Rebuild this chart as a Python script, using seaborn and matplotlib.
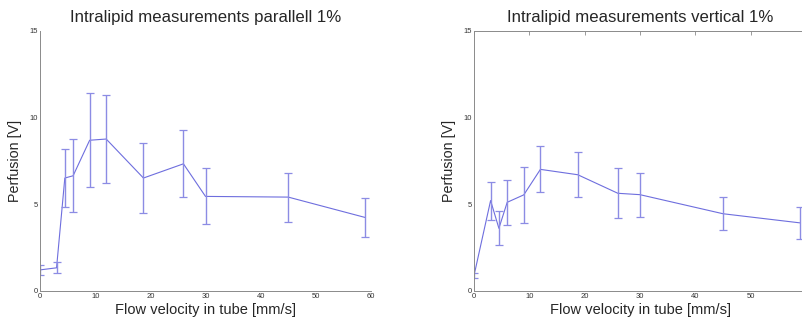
import numpy as np
import pandas as pd
import matplotlib
matplotlib.use("Agg")
import matplotlib.pyplot as plt
import seaborn as sns

# flow velocity in tube [mm/s]
velocity = [0, 3, 4.5, 6, 9, 12, 18.75, 26, 30, 45, 59]

# parallel 1%
par_mean = [1.2, 1.32, 6.5, 6.63, 8.68, 8.75, 6.5, 7.32, 5.44, 5.4, 4.22]
par_err = [0.28, 0.32, 1.65, 2.1, 2.71, 2.56, 2.0, 1.93, 1.62, 1.41, 1.1]

# vertical 1%
ver_mean = [0.87, 5.2, 3.6, 5.1, 5.53, 7.0, 6.69, 5.62, 5.54, 4.44, 3.91]
ver_err = [0.15, 1.1, 0.98, 1.3, 1.6, 1.32, 1.3, 1.44, 1.27, 0.95, 0.94]

titles = ["Intralipid measurements parallell 1%", "Intralipid measurements vertical 1%"]
xticks = [0, 10, 20, 30, 40, 50, 60]
yticks = [0, 5, 10, 15]

sns.set_style("white")
plt.rcParams['font.family'] = ['Liberation Sans', 'DejaVu Sans']

line_col = "#6e6ede"
err_col = "#8c8ce4"
spine_col = "#8a8a8a"

fig = plt.figure(figsize=(8.02, 3.22), dpi=100)
ax1 = fig.add_axes([40 / 802, 31.3 / 322, 331 / 802, 260 / 322])
ax2 = fig.add_axes([474 / 802, 31.3 / 322, 332 / 802, 260 / 322])

panels = [(ax1, par_mean, par_err, titles[0]), (ax2, ver_mean, ver_err, titles[1])]
for ax, m, e, t in panels:
    df = pd.DataFrame({"v": velocity, "p": m})
    sns.lineplot(data=df, x="v", y="p", ax=ax, color=line_col, lw=0.8)
    ax.errorbar(velocity, m, yerr=e, fmt="none", ecolor=err_col, elinewidth=1.0,
                capsize=2.8, capthick=0.9)
    ax.set_xlim(0, 60)
    ax.set_ylim(0, 15)
    ax.set_xticks(xticks)
    ax.set_yticks(yticks)
    ax.tick_params(direction="in", length=3, width=0.6, color=spine_col,
                   labelsize=5.5, labelcolor="#333333", pad=1.5)
    for s in ax.spines.values():
        s.set_color(spine_col)
        s.set_linewidth(0.7)
    ax.set_title(t, fontsize=12.1, pad=6)
    ax.set_xlabel("Flow velocity in tube [mm/s]", fontsize=10.5, labelpad=2)
    ax.set_ylabel("Perfusion [V]", fontsize=10.3, labelpad=5)

# left panel drawn without top/right box, right panel with full box
ax1.spines["top"].set_visible(False)
ax1.spines["right"].set_visible(False)
ax2.tick_params(top=True, right=True)

fig.savefig("out.png", dpi=100)
